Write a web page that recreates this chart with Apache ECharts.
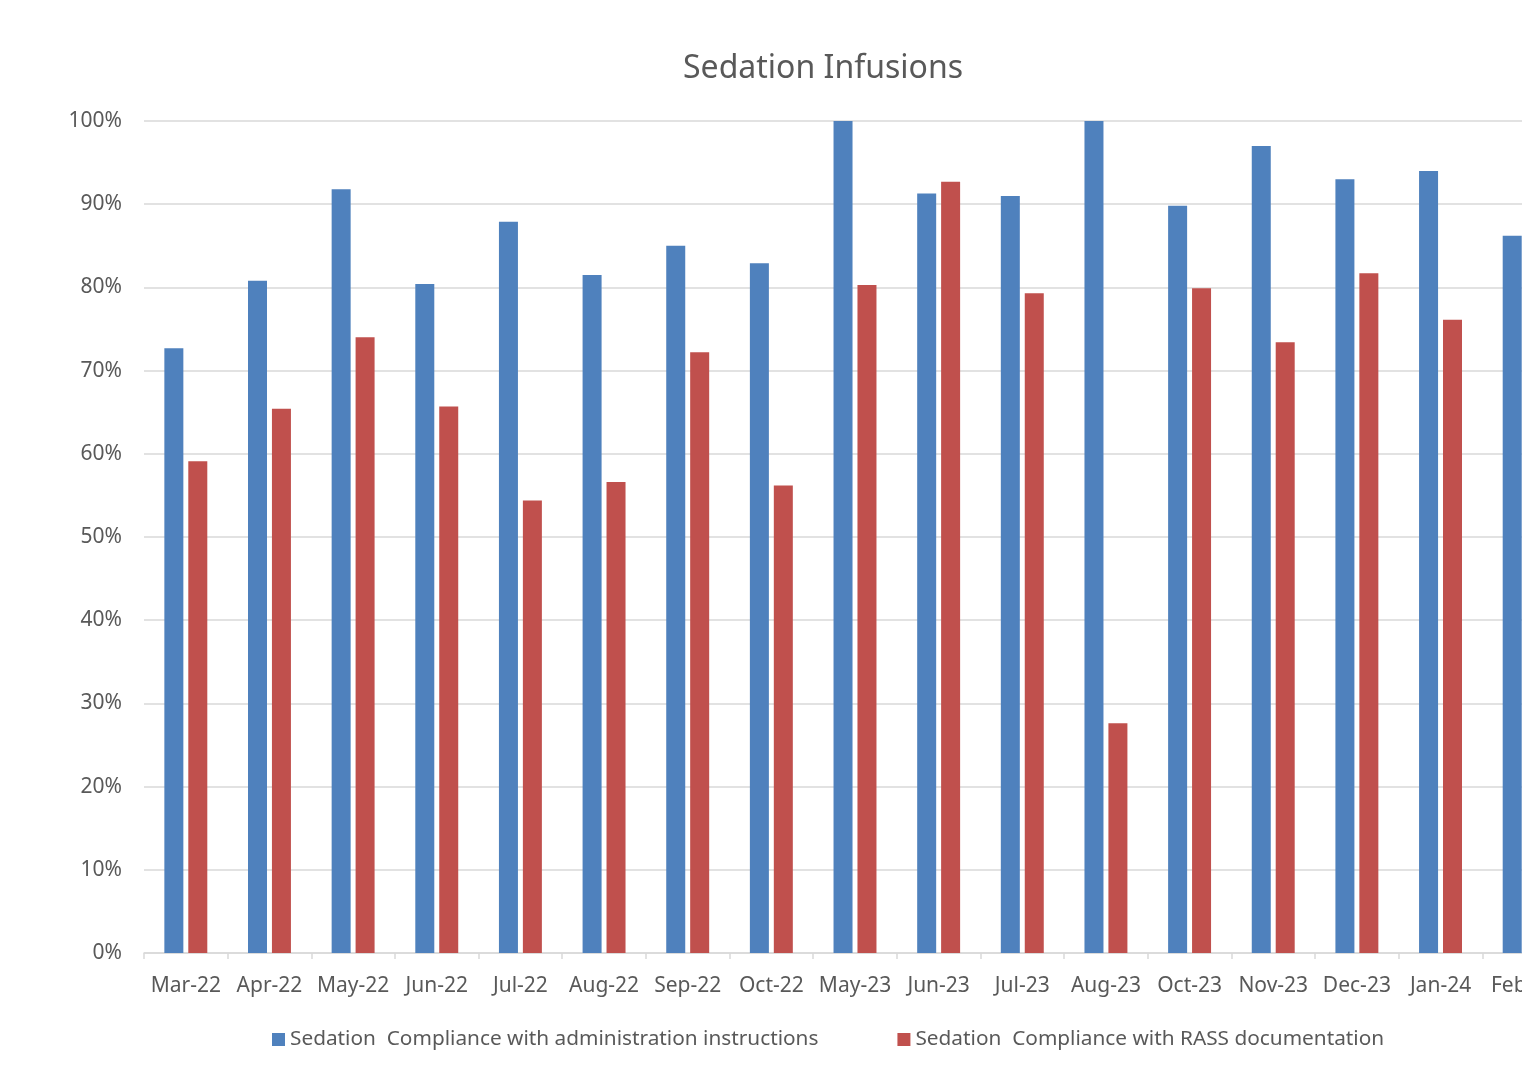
<!DOCTYPE html>
<html>
<head>
<meta charset="utf-8">
<title>Sedation Infusions</title>
<script src="https://cdn.jsdelivr.net/npm/echarts@6/dist/echarts.min.js"></script>
<style>
  html, body { margin: 0; padding: 0; background: #ffffff; overflow: hidden; }
  #wrap { width: 1522px; height: 1078px; overflow: hidden; }
  #chart { width: 1646px; height: 1078px; }
</style>
</head>
<body>
<div id="wrap"><div id="chart"></div></div>
<script>
// Monthly compliance figures (percent)
const months = ['Mar-22', 'Apr-22', 'May-22', 'Jun-22', 'Jul-22', 'Aug-22', 'Sep-22', 'Oct-22',
                'May-23', 'Jun-23', 'Jul-23', 'Aug-23', 'Oct-23', 'Nov-23', 'Dec-23', 'Jan-24', 'Feb-24'];
const adminCompliance = [72.7, 80.8, 91.8, 80.4, 87.9, 81.5, 85.0, 82.9,
                         100, 91.3, 91.0, 100, 89.8, 97.0, 93.0, 94.0, 86.2];
const rassCompliance = [59.1, 65.4, 74.0, 65.7, 54.4, 56.6, 72.2, 56.2,
                        80.3, 92.7, 79.3, 27.6, 79.9, 73.4, 81.7, 76.1, null];
const yTicks = [0, 10, 20, 30, 40, 50, 60, 70, 80, 90, 100];
const seriesNames = ['Sedation  Compliance with administration instructions',
                     'Sedation  Compliance with RASS documentation'];

const font = 'Noto Sans';
const chart = echarts.init(document.getElementById('chart'), null, { renderer: 'canvas' });

chart.setOption({
  animation: false,
  backgroundColor: '#ffffff',
  title: {
    text: 'Sedation Infusions',
    left: 'center',
    top: 48,
    textStyle: { fontFamily: font, fontSize: 32, fontWeight: 'normal', color: '#595959' }
  },
  legend: {
    data: seriesNames,
    left: 272,
    top: 1029,
    padding: 0,
    itemWidth: 13,
    itemHeight: 13,
    itemGap: 79,
    icon: 'rect',
    textStyle: { fontFamily: font, fontSize: 20.8, color: '#595959' }
  },
  grid: { left: 144, top: 121, bottom: 125, right: 80, containLabel: false },
  xAxis: {
    type: 'category',
    data: months,
    axisLine: { lineStyle: { color: '#d9d9d9', width: 1.5 } },
    axisTick: { show: true, alignWithLabel: false, length: 6, lineStyle: { color: '#d9d9d9', width: 1.5 } },
    axisLabel: { fontFamily: font, fontSize: 21, color: '#595959', margin: 23, interval: 0 }
  },
  yAxis: {
    type: 'value',
    min: yTicks[0],
    max: yTicks[yTicks.length - 1],
    interval: 10,
    axisLine: { show: false },
    axisTick: { show: false },
    splitLine: { lineStyle: { color: '#d9d9d9', width: 1.5 } },
    axisLabel: { fontFamily: font, fontSize: 21, color: '#595959', margin: 22, formatter: v => v + '%' }
  },
  series: [
    {
      name: seriesNames[0],
      type: 'bar',
      data: adminCompliance,
      barWidth: 19,
      barGap: '26%',
      itemStyle: { color: '#4f81bd' }
    },
    {
      name: seriesNames[1],
      type: 'bar',
      data: rassCompliance,
      barWidth: 19,
      barGap: '26%',
      itemStyle: { color: '#c0504d' }
    }
  ]
});
</script>
</body>
</html>
